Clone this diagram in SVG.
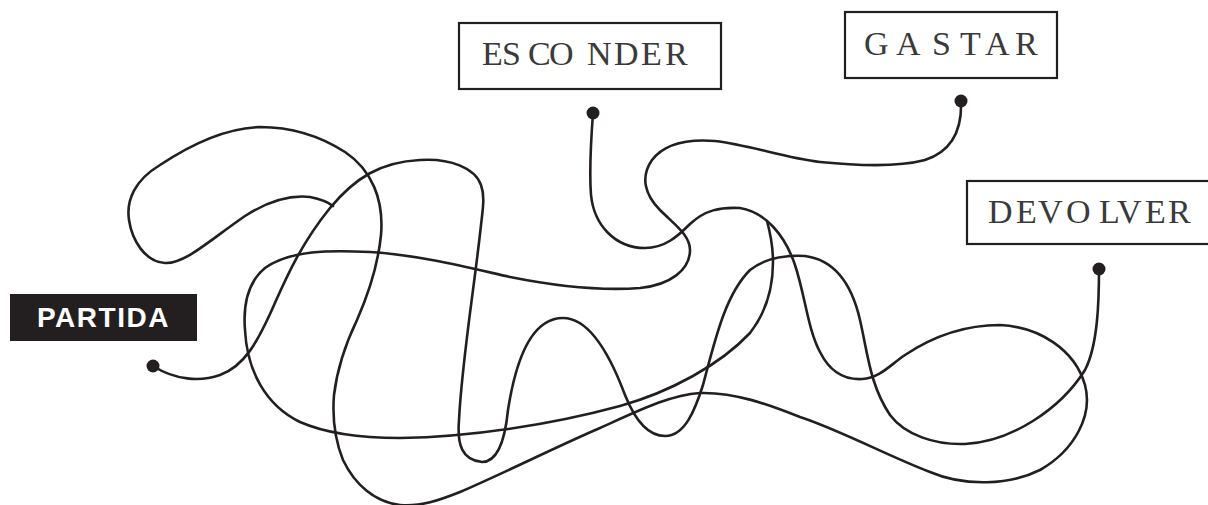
<svg xmlns="http://www.w3.org/2000/svg" width="1208" height="505" viewBox="0 0 1208 505">
  <style>
    .box { fill: #ffffff; stroke: #231f20; stroke-width: 2.2; }
    .lbl { font-family: "Liberation Serif", "DejaVu Serif", serif; font-size: 34px; fill: #3a3a3a; }
    .start { fill: #231f20; }
    .startlbl { font-family: "Liberation Sans", Arial, sans-serif; font-weight: bold; font-size: 28px; fill: #ffffff; letter-spacing: 1.5px; }
    .wire { fill: none; stroke: #231f20; stroke-width: 2.6; stroke-linecap: round; stroke-linejoin: round; }
    .dot { fill: #231f20; }
  </style>
  <rect x="0" y="0" width="1208" height="505" fill="#ffffff"/>

  <g id="connectors">
    <!-- PARTIDA to DEVOLVER -->
    <path class="wire" d="M153,366 C175,380 200,382 220,375 C245,366 258,340 270,314 C285,280 300,245 330,208 C355,178 380,162 420,160 C450,158 475,168 481,185 C485,196 483,208 481,225 C474,290 462,360 459,420 C457,445 462,460 482,462 C498,462 505,440 508,410 C515,365 530,318 563,318 C590,318 610,355 625,395 C635,420 648,436 665,436 C685,436 695,410 703,385 C715,340 725,295 750,270 C765,258 785,255 805,256 C835,260 852,285 860,320 C868,355 870,385 890,415 C905,435 935,445 965,444 C1010,442 1060,410 1085,370 C1098,345 1099,300 1099,269"/>
    <!-- ESCONDER strand -->
    <path class="wire" d="M593,113 C591,140 589,170 591,195 C594,225 615,248 645,248 C665,248 678,236 690,224 C705,210 720,207 740,208 C765,212 785,235 795,265 C805,295 808,330 820,352 C830,372 845,380 862,379 C880,378 890,365 905,355 C935,335 965,325 1000,325 C1040,327 1075,350 1085,385 C1093,415 1075,450 1040,470 C1010,485 965,487 930,472 C890,457 840,430 800,417 C770,405 735,392 700,393 C670,395 640,410 600,428 C560,445 500,475 460,492 C440,500 420,507 400,505 C375,502 355,485 343,460 C335,440 332,420 334,395 C337,370 345,345 357,320 C368,295 378,265 381,235 C384,200 372,170 345,152 C320,136 290,127 260,127 C225,128 190,145 160,165 C135,180 126,200 129,220 C132,240 145,262 165,263 C185,264 210,240 245,216 C270,200 292,195 310,197 C320,199 328,202 333,206"/>
    <!-- GASTAR strand -->
    <path class="wire" d="M961,101 C962,125 955,150 925,160 C895,168 850,165 820,162 C785,158 750,145 715,141 C690,139 665,143 652,160 C640,177 645,195 660,210 C675,225 690,235 690,250 C690,270 670,285 640,288 C600,291 550,285 510,277 C470,268 420,255 370,252 C330,250 290,250 265,268 C248,282 243,305 245,330 C247,370 265,405 300,422 C325,433 360,438 400,438 C470,437 550,425 620,406 C670,392 720,365 750,333 C768,310 773,285 773,262 C773,245 770,232 767,221"/>
  </g>

  <g id="partida">
    <rect class="start" x="10" y="294" width="187" height="47"/>
    <text class="startlbl" x="37" y="327">PARTIDA</text>
    <circle class="dot" cx="153" cy="366" r="6.5"/>
  </g>

  <g id="esconder">
    <rect class="box" x="459" y="23" width="262" height="66"/>
    <text class="lbl" x="482 502 528 549 587 614 641 665" y="65">ESCONDER</text>
    <circle class="dot" cx="593" cy="113" r="6.5"/>
  </g>

  <g id="gastar">
    <rect class="box" x="845" y="12" width="212" height="66"/>
    <text class="lbl" x="864 896 932 960 985 1015" y="55">GASTAR</text>
    <circle class="dot" cx="961" cy="101" r="6.5"/>
  </g>

  <g id="devolver">
    <rect class="box" x="967" y="181" width="246" height="63"/>
    <text class="lbl" x="988 1016 1038 1066 1099 1117 1145 1168" y="223">DEVOLVER</text>
    <circle class="dot" cx="1099" cy="269" r="6.5"/>
  </g>
</svg>
